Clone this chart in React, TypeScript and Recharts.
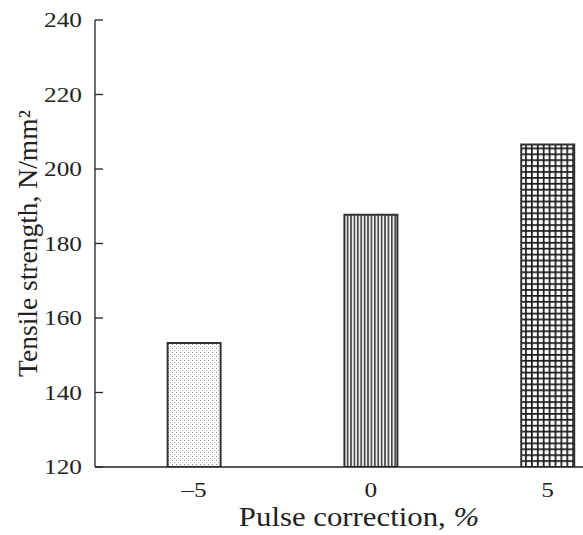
import { BarChart, Bar, XAxis, YAxis, Cell, Label } from 'recharts';

const corrections = [-5, 0, 5];
const strength = [153.3, 187.7, 206.6];
const yTicks = [120, 140, 160, 180, 200, 220, 240];
const xTicks = [-5, 0, 5];
const fills = ['url(#dots)', 'url(#vlines)', 'url(#grid)'];

const data = corrections.map((c, i) => ({ pulse: c, value: strength[i] }));

const font = '"Liberation Serif", "DejaVu Serif", serif';
const ink = '#222';
// text in the original is a bit wider than Times
const wide = (x: number, y: number, k: number) => `translate(${x} ${y}) scale(${k} 1) translate(${-x} ${-y})`;

const YTick = (props: any) => {
  const { x, y, payload } = props;
  return (
    <g>
      <text x={x} y={y} dy={7.5} transform={wide(x, y, 1.15)} textAnchor="end" fontFamily={font} fontSize={22} fill={ink}>
        {payload.value}
      </text>
      <line x1={x + 13} x2={x + 21} y1={y} y2={y} stroke={ink} strokeWidth={1.3} />
    </g>
  );
};

const XTick = (props: any) => {
  const { x, y, payload } = props;
  const v = payload.value;
  return (
    <text x={x} y={y} dy={28} transform={wide(x, y, 1.15)} textAnchor="middle" fontFamily={font} fontSize={22} fill={ink}>
      {v < 0 ? `–${Math.abs(v)}` : `${v}`}
    </text>
  );
};

const YTitle = (props: any) => {
  const { viewBox } = props;
  const cx = viewBox.x + 30;
  const cy = viewBox.y + viewBox.height / 2;
  return (
    <text
      x={cx}
      y={cy}
      transform={`rotate(-90 ${cx} ${cy})`}
      textAnchor="middle"
      dy={7}
      fontFamily={font}
      fontSize={27.5}
      fill={ink}
    >
      Tensile strength, N/mm²
    </text>
  );
};

const XTitle = (props: any) => {
  const { viewBox } = props;
  const cx = viewBox.x + viewBox.width / 2 + 20;
  const cy = viewBox.y + 59;
  return (
    <text x={cx} y={cy} transform={wide(cx, cy, 1.1)} textAnchor="middle" fontFamily={font} fontSize={28} fill={ink}>
      Pulse correction, <tspan fontStyle="italic">%</tspan>
    </text>
  );
};

const Patterns = () => (
  <svg width={0} height={0} style={{ position: 'absolute' }}>
    <defs>
      <pattern id="dots" width={4} height={4} patternUnits="userSpaceOnUse">
        <rect width={4} height={4} fill="#fff" />
        <rect x={0} y={0} width={1} height={1} fill="#888" />
        <rect x={2} y={2} width={1} height={1} fill="#aaa" />
      </pattern>
      <pattern id="vlines" width={3.4} height={4} patternUnits="userSpaceOnUse">
        <rect width={3.4} height={4} fill="#eee" />
        <rect x={0} y={0} width={1.6} height={4} fill="#444" />
      </pattern>
      <pattern id="grid" width={5.9} height={5.9} patternUnits="userSpaceOnUse">
        <rect width={5.9} height={5.9} fill="#fff" />
        <rect x={0} y={0} width={1.7} height={5.9} fill="#1a1a1a" />
        <rect x={0} y={0} width={5.9} height={1.7} fill="#1a1a1a" />
      </pattern>
    </defs>
  </svg>
);

export default function App() {
  return (
    <div style={{ position: 'absolute', left: 0, top: 0, width: 583, height: 535, background: '#fff' }}>
      <Patterns />
      <BarChart width={583} height={535} data={data} margin={{ top: 20, right: 0, left: 0, bottom: 0 }}>
        <XAxis
          dataKey="pulse"
          type="number"
          domain={[-7.8, 6]}
          ticks={xTicks}
          height={68}
          tickLine={false}
          tickSize={0}
          tickMargin={2}
          stroke={ink}
          strokeWidth={1.3}
          tick={<XTick />}
        >
          <Label content={<XTitle />} />
        </XAxis>
        <YAxis
          type="number"
          domain={[120, 240]}
          ticks={yTicks}
          width={95}
          tickLine={false}
          tickSize={0}
          tickMargin={13}
          stroke={ink}
          strokeWidth={1.3}
          tick={<YTick />}
          allowDataOverflow
        >
          <Label content={<YTitle />} />
        </YAxis>
        <Bar dataKey="value" barSize={53} stroke="#333" strokeWidth={2} isAnimationActive={false}>
          {data.map((d, i) => (
            <Cell key={d.pulse} fill={fills[i]} />
          ))}
        </Bar>
      </BarChart>
    </div>
  );
}
